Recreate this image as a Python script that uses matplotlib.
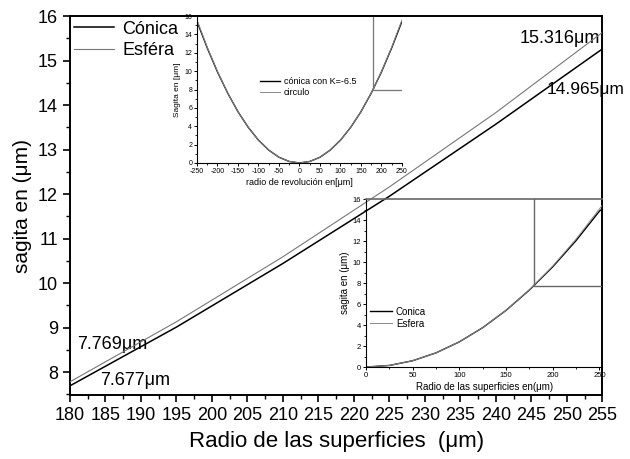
import matplotlib
matplotlib.use("Agg")
import matplotlib.pyplot as plt
from matplotlib.ticker import MultipleLocator

plt.rcParams['font.family'] = ['Liberation Sans', 'DejaVu Sans']
plt.rcParams['axes.unicode_minus'] = False

# main plot: zoom of the sag curves between r = 180 and 255 um
radio = [180, 195, 210, 225, 240, 255]
sag_conica = [7.69, 9.01, 10.44, 11.95, 13.57, 15.26]
sag_esfera = [7.78, 9.13, 10.59, 12.16, 13.83, 15.63]

# upper inset: full profile, -250..250
r_rev = [-250, -225, -200, -175, -150, -125, -100, -75, -50, -25, 0,
         25, 50, 75, 100, 125, 150, 175, 200, 225, 250]
sag_rev_conica = [15.42, 12.53, 9.91, 7.60, 5.58, 3.88, 2.48, 1.40, 0.62, 0.16, 0.0,
                  0.16, 0.62, 1.40, 2.48, 3.88, 5.58, 7.60, 9.91, 12.53, 15.42]
sag_rev_circulo = [15.56, 12.60, 9.95, 7.61, 5.59, 3.88, 2.48, 1.40, 0.62, 0.16, 0.0,
                   0.16, 0.62, 1.40, 2.48, 3.88, 5.59, 7.61, 9.95, 12.60, 15.56]

# lower inset: half profile, 0..255
r_sup = [0, 25, 50, 75, 100, 125, 150, 175, 200, 225, 250, 255]
sag_sup_conica = [0.0, 0.15, 0.60, 1.35, 2.40, 3.75, 5.40, 7.34, 9.55, 12.05, 14.85, 15.20]
sag_sup_esfera = [0.0, 0.15, 0.60, 1.35, 2.40, 3.75, 5.41, 7.36, 9.62, 12.19, 15.06, 15.65]

fig = plt.figure(figsize=(6.3, 4.59), dpi=100)
ax = fig.add_axes([0.111, 0.139, 0.845, 0.826])

ax.plot(radio, sag_conica, color="black", lw=1.1, label="Cónica", zorder=5)
ax.plot(radio, sag_esfera, color="#777777", lw=0.8, label="Esféra", zorder=5)
ax.set_xlim(180, 255)
ax.set_ylim(7.48, 16)
ax.xaxis.set_major_locator(MultipleLocator(5))
ax.xaxis.set_minor_locator(MultipleLocator(2.5))
ax.yaxis.set_major_locator(MultipleLocator(1))
ax.yaxis.set_minor_locator(MultipleLocator(0.5))
ax.tick_params(which="major", direction="out", length=5, width=1.2, labelsize=13)
ax.tick_params(which="minor", direction="out", length=3, width=1.0)
for s in ax.spines.values():
    s.set_linewidth(1.4)
ax.set_xlabel("Radio de las superficies  (μm)", fontsize=16, labelpad=5)
ax.set_ylabel("sagita en (μm)", fontsize=15, labelpad=4)
ax.legend(loc="upper left", frameon=False, fontsize=13, handlelength=2.2,
          borderpad=0.15, borderaxespad=0.1, labelspacing=0.25, handletextpad=0.45)

ax.text(243.4, 15.5, "15.316μm", fontsize=13, va="center")
ax.text(247.2, 14.34, "14.965μm", fontsize=12.5, va="center")
ax.text(181.0, 8.63, "7.769μm", fontsize=13, va="center")
ax.text(184.2, 7.82, "7.677μm", fontsize=13, va="center")

# upper inset
ax1 = fig.add_axes([0.3127, 0.645, 0.3253, 0.32])
ax1.set_facecolor("none")
ax1.plot(r_rev, sag_rev_conica, color="black", lw=1.0, label="cónica con K=-6.5")
ax1.plot(r_rev, sag_rev_circulo, color="#888888", lw=0.7, label="circulo")
ax1.plot([180, 180, 250], [16, 8, 8], color="#777777", lw=0.9)
ax1.set_xlim(-250, 250)
ax1.set_ylim(0, 16)
ax1.xaxis.set_major_locator(MultipleLocator(50))
ax1.xaxis.set_minor_locator(MultipleLocator(25))
ax1.yaxis.set_major_locator(MultipleLocator(2))
ax1.yaxis.set_minor_locator(MultipleLocator(1))
ax1.tick_params(which="major", direction="out", length=2.5, width=0.7, labelsize=5, pad=1)
ax1.tick_params(which="minor", direction="out", length=1.5, width=0.6)
ax1.spines["top"].set_linewidth(1.4)
ax1.spines["right"].set_visible(False)
ax1.set_xlabel("radio de revolución en[μm]", fontsize=6.5, labelpad=2)
ax1.set_ylabel("Sagita en [μm]", fontsize=6, labelpad=2)
ax1.legend(loc="upper left", bbox_to_anchor=(0.27, 0.64), frameon=False, fontsize=6.5,
           handlelength=2.2, labelspacing=0.25, handletextpad=0.4)

# lower inset
ax2 = fig.add_axes([0.581, 0.2004, 0.375, 0.366])
ax2.set_facecolor("none")
ax2.plot(r_sup, sag_sup_conica, color="black", lw=1.0, label="Conica")
ax2.plot(r_sup, sag_sup_esfera, color="#888888", lw=0.7, label="Esfera")
ax2.plot([180, 180, 255], [16, 7.7, 7.7], color="#666666", lw=1.0)
ax2.set_xlim(0, 253)
ax2.set_ylim(0, 16)
ax2.xaxis.set_major_locator(MultipleLocator(50))
ax2.xaxis.set_minor_locator(MultipleLocator(25))
ax2.yaxis.set_major_locator(MultipleLocator(2))
ax2.yaxis.set_minor_locator(MultipleLocator(1))
ax2.tick_params(which="major", direction="out", length=2.5, width=0.7, labelsize=5.5, pad=1)
ax2.tick_params(which="minor", direction="out", length=1.5, width=0.6)
ax2.spines["top"].set_color("#666666")
ax2.spines["top"].set_linewidth(1.2)
ax2.spines["right"].set_visible(False)
ax2.set_xlabel("Radio de las superficies en(μm)", fontsize=7, labelpad=2)
ax2.set_ylabel("sagita en (μm)", fontsize=7, labelpad=2)
ax2.legend(loc="upper left", bbox_to_anchor=(-0.02, 0.41), frameon=False, fontsize=7,
           handlelength=2.3, labelspacing=0.2, handletextpad=0.35)

fig.savefig("out.png", dpi=100)
